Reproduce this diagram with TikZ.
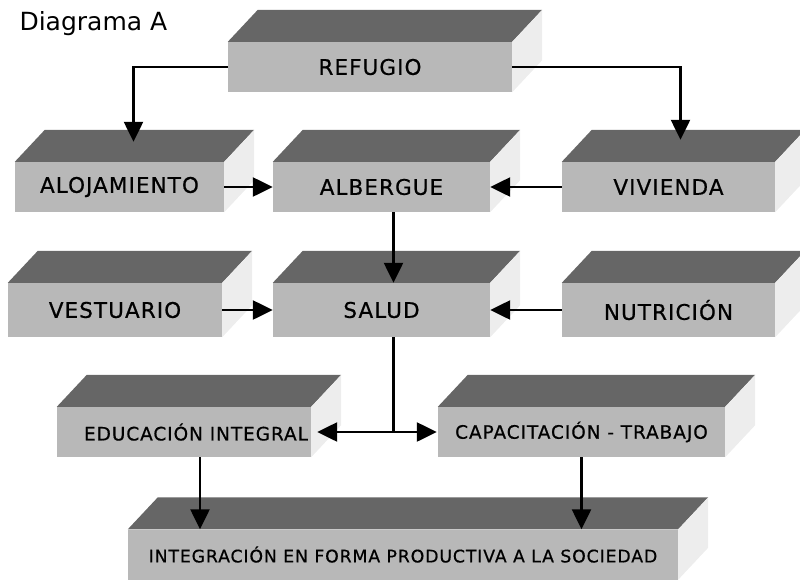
\documentclass[tikz,border=0pt]{standalone}
\usepackage{fontspec}
\setmainfont{DejaVu Sans}
\newfontfamily\cajafont{DejaVu Sans}[LetterSpace=5,FakeBold=0.6]
\usetikzlibrary{arrows.meta}

\definecolor{frente}{gray}{0.72}
\definecolor{techo}{gray}{0.40}
\definecolor{lado}{gray}{0.93}

\tikzset{
	caja/.style={fill=frente, minimum height=50, inner sep=0pt,
		font=\cajafont\fontsize{21.5}{25}\selectfont},
	cajachica/.style={caja, font=\cajafont\fontsize{18.5}{22}\selectfont},
	flecha/.style={line width=2.4pt, -{Triangle[length=20pt,width=19pt]}},
	doble/.style={line width=2.4pt, {Triangle[length=20pt,width=19pt]}-{Triangle[length=20pt,width=19pt]}},
}

\begin{document}
\begin{tikzpicture}[x=1pt, y=-1pt]
			
				\useasboundingbox (0,0) rectangle (800,581);
				
				\node[anchor=base west, font=\fontsize{25}{28}\selectfont] (titulo) at (16,30) {Diagrama A};
				
				% cajas (cara frontal)
				\node[caja, minimum width=284] (refugio)      at (370,67)    {REFUGIO};
				\node[caja, minimum width=209] (alojamiento)  at (119.5,187) {ALOJAMIENTO};
				\node[caja, minimum width=217] (albergue)     at (381.5,187) {ALBERGUE};
				\node[caja, minimum width=213] (vivienda)     at (668.5,187) {VIVIENDA};
				\node[caja, minimum width=214, minimum height=54] (vestuario) at (115,310)   {VESTUARIO};
				\node[caja, minimum width=217, minimum height=54] (salud)     at (381.5,310) {SALUD};
				\node[caja, minimum width=213, minimum height=54] (nutricion) at (668.5,310) {NUTRICIÓN};
				\node[cajachica, minimum width=254] (educacion)    at (184,432)   {\hspace*{24pt}EDUCACIÓN INTEGRAL};
				\node[cajachica, minimum width=287] (capacitacion) at (581.5,432) {CAPACITACIÓN - TRABAJO};
				\node[cajachica, minimum width=550, font=\cajafont\fontsize{17.3}{21}\selectfont] (integracion) at (403,554.5) {INTEGRACIÓN EN FORMA PRODUCTIVA A LA SOCIEDAD};
				
				% tapa y costado
				\foreach \n in {refugio,alojamiento,albergue,vivienda,vestuario,salud,nutricion,educacion,capacitacion,integracion} {
					\fill[techo] (\n.north west) -- ++(30,-32) -- ([shift={(30,-32)}]\n.north east) -- (\n.north east) -- cycle;
					\fill[lado] (\n.north east) -- ++(30,-32) -- ([shift={(30,-32)}]\n.south east) -- (\n.south east) -- cycle;
				}
				
				% flechas
				\draw[flecha] (refugio.west) -| ([shift={(14,-20)}]alojamiento.north);
				\draw[flecha] (refugio.east) -| ([shift={(12,-22)}]vivienda.north);
				\draw[flecha] (alojamiento.east) -- (albergue.west);
				\draw[flecha] (vivienda.west) -- (albergue.east);
				\draw[flecha] ([xshift=12]albergue.south) -- ([xshift=12]salud.north);
				\draw[flecha] (vestuario.east) -- (salud.west);
				\draw[flecha] (nutricion.west) -- (salud.east);
				\draw[line width=2.4pt] ([xshift=12]salud.south) -- ([xshift=12]salud.south |- educacion.east);
				\draw[doble] ([xshift=6]educacion.east) -- ([xshift=-1]capacitacion.west);
				\draw[flecha] ([xshift=16]educacion.south) -- ([xshift=16]educacion.south |- integracion.north);
				\draw[flecha] (capacitacion.south) -- (capacitacion.south |- integracion.north);
			\end{tikzpicture}
\end{document}
